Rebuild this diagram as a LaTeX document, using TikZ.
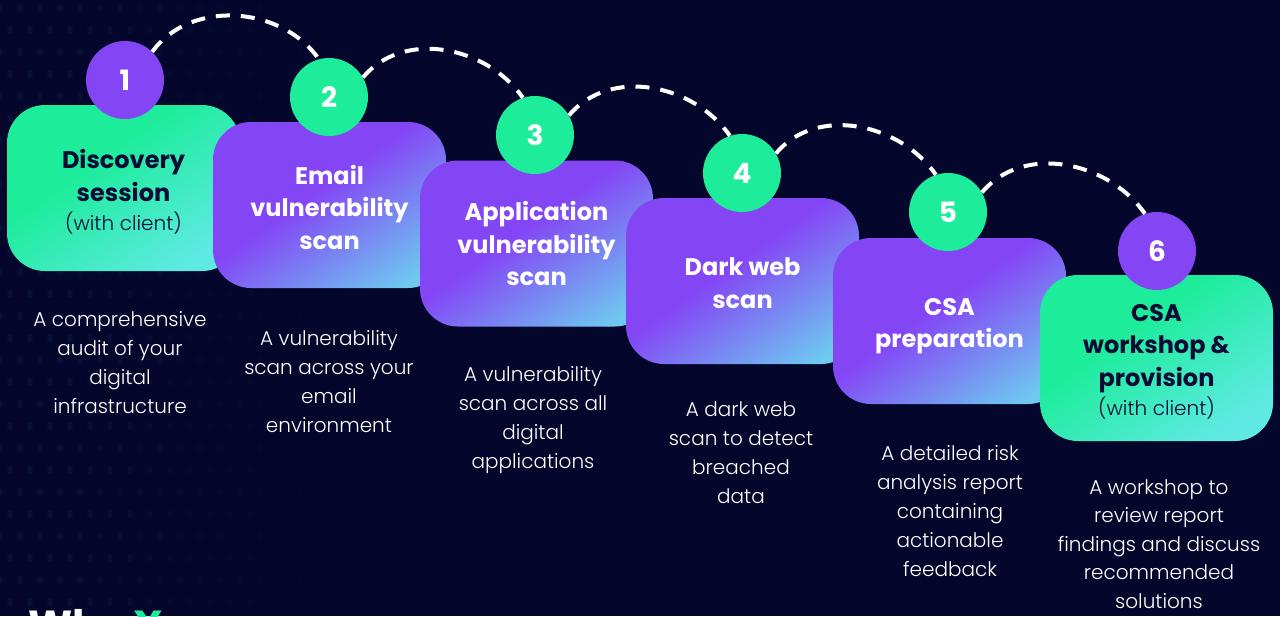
\documentclass[tikz,border=0pt]{standalone}
\usepackage{fontspec}
\setmainfont{Poppins}
\newfontfamily\descfont{Poppins Light}
\definecolor{bgc}{HTML}{04072B}
\definecolor{dotc}{HTML}{12345E}
\definecolor{gtop}{HTML}{1DEC9B}
\definecolor{gbot}{HTML}{5EEAE2}
\definecolor{ptop}{HTML}{8445F5}
\definecolor{pbot}{HTML}{6EC8F0}
\definecolor{darktext}{HTML}{0B0B35}
\pgfdeclareverticalshading{greenshade}{100bp}{color(0bp)=(gbot); color(25bp)=(gbot); color(60bp)=(gtop); color(100bp)=(gtop)}
\pgfdeclareverticalshading{purpshade}{100bp}{color(0bp)=(pbot); color(22bp)=(pbot); color(55bp)=(ptop); color(100bp)=(ptop)}
\tikzset{
  box/.style={rounded corners=38pt, minimum width=233pt, minimum height=166pt, inner sep=0pt},
  gbox/.style={box, shading=greenshade, shading angle=35},
  pbox/.style={box, shading=purpshade, shading angle=35},
  numc/.style={circle, minimum size=78pt, inner sep=0pt, text=white, font=\bfseries\fontsize{28}{28}\selectfont},
  gnum/.style={numc, fill=gtop},
  pnum/.style={numc, fill=ptop},
  head/.style={align=center, inner sep=0pt, font=\bfseries\fontsize{24}{32.5}\selectfont},
  ghead/.style={head, text=darktext},
  phead/.style={head, text=white},
  desc/.style={text=white, align=center, font=\descfont\fontsize{20}{29}\selectfont, anchor=north},
  arcline/.style={white, line width=4pt, dash pattern=on 14pt off 11pt},
}
\newcommand{\withclient}{\\[-3pt]{\descfont\mdseries\fontsize{20}{24}\selectfont (with client)}}
\begin{document}
\begin{tikzpicture}[x=1pt,y=1pt]
\useasboundingbox (0,0) rectangle (1280,-616);
\fill[bgc] (0,0) rectangle (1280,-616);
% faint dot pattern
\foreach \i in {0,...,16}{
  \foreach \j in {0,...,27}{
    \pgfmathsetmacro{\xx}{\i*20+mod(\j,2)*10}
    \pgfmathsetmacro{\yy}{-\j*22-8}
    \pgfmathsetmacro{\op}{max(0,0.24*(1-\xx/330))}
    \fill[dotc, opacity=\op] (\xx,\yy) ellipse (2.8pt and 4pt);
  }
}
% boxes and circles
\node[gbox] (b1) at (123.5,-188) {};
\node[ghead, yshift=-4pt] (t1) at (b1.center) {Discovery\\session\withclient};
\node[pnum] (c1) at (125,-80) {1};
\node[pbox] (b2) at (329.5,-205) {};
\node[phead, yshift=-2pt] (t2) at (b2.center) {Email\\vulnerability\\scan};
\node[gnum] (c2) at (329,-97) {2};
\node[pbox] (b3) at (536.5,-243.5) {};
\node[phead] (t3) at (b3.center) {Application\\vulnerability\\scan};
\node[gnum] (c3) at (535,-135) {3};
\node[pbox] (b4) at (742.5,-281) {};
\node[phead, yshift=-2pt] (t4) at (b4.center) {Dark web\\scan};
\node[gnum] (c4) at (742,-173) {4};
\node[pbox] (b5) at (949.5,-321) {};
\node[phead, yshift=-5pt] (t5) at (b5.center) {CSA\\preparation};
\node[gnum] (c5) at (948,-212) {5};
\node[gbox] (b6) at (1156.5,-358) {};
\node[ghead, yshift=-4pt] (t6) at (b6.center) {CSA\\workshop \&\\provision\withclient};
\node[pnum] (c6) at (1157,-251) {6};
% dashed arcs
\draw[arcline] (c1.46) to[out=54,in=125] (c2.105);
\draw[arcline] (c2.30) to[out=50,in=125] (c3.108);
\draw[arcline] (c3.30) to[out=50,in=125] (c4.108);
\draw[arcline] (c4.30) to[out=50,in=125] (c5.108);
\draw[arcline] (c5.30) to[out=50,in=125] (c6.108);
% descriptions
\node[desc] (d1) at (120,-307.5) {A comprehensive\\audit of your\\digital\\infrastructure};
\node[desc] (d2) at (329,-326.5) {A vulnerability\\scan across your\\email\\environment};
\node[desc] (d3) at (533,-362.5) {A vulnerability\\scan across all\\digital\\applications};
\node[desc] (d4) at (741,-398.5) {A dark web\\scan to detect\\breached\\data};
\node[desc] (d5) at (950,-441.5) {A detailed risk\\analysis report\\containing\\actionable\\feedback};
\node[desc, font=\descfont\fontsize{20}{28.5}\selectfont] (d6) at (1159,-476) {A workshop to\\review report\\findings and discuss\\recommended\\solutions};
% cut-off title
\node[anchor=base west, text=white, font=\bfseries\fontsize{42}{42}\selectfont, inner sep=0pt] (why) at (28,-640) {Why};
\node[anchor=base west, text=gtop, font=\bfseries\fontsize{42}{42}\selectfont, inner sep=0pt] (xx) at (133,-640) {X};
\end{tikzpicture}
\end{document}
